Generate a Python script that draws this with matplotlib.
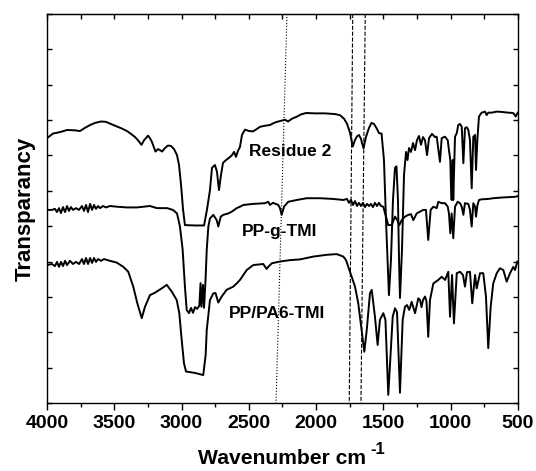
import matplotlib
matplotlib.use("Agg")
import matplotlib.pyplot as plt
from matplotlib.ticker import MultipleLocator, NullFormatter

plt.rcParams['font.family'] = ['Liberation Sans', 'DejaVu Sans']
plt.rcParams['font.weight'] = 'bold'

# spectra: wavenumber (cm-1) and transmittance (arb. units, 0-110)
residue_wn = [4000, 3955, 3903, 3851, 3792, 3755, 3718, 3680, 3643, 3599, 3562, 3532, 3487, 3443,
              3406, 3376, 3346, 3324, 3298, 3279, 3249, 3235, 3220, 3194, 3175, 3160, 3145, 3123,
              3101, 3079, 3056, 3034, 3019, 3004, 2989, 2975, 2900, 2833, 2811, 2789, 2774, 2752,
              2737, 2722, 2707, 2692, 2670, 2648, 2625, 2610, 2596, 2581, 2566, 2551, 2529, 2499,
              2469, 2440, 2417, 2380, 2343, 2313, 2291, 2261, 2231, 2209, 2179, 2142, 2113, 2075,
              2008, 1934, 1860, 1823, 1793, 1771, 1748, 1728, 1711, 1696, 1682, 1667, 1648, 1630,
              1607, 1589, 1570, 1548, 1533, 1514, 1496, 1481, 1466, 1459, 1444, 1429, 1414, 1403,
              1392, 1384, 1377, 1362, 1347, 1332, 1321, 1310, 1295, 1280, 1265, 1251, 1236, 1221,
              1206, 1191, 1176, 1161, 1139, 1117, 1104, 1080, 1067, 1042, 1022, 1013, 1003, 998,
              993, 985, 981, 968, 955, 944, 931, 918, 906, 894, 881, 869, 857, 844, 832, 819, 812,
              802, 790, 770, 745, 733, 721, 695, 658, 621, 572, 535, 517, 502]
residue_t = [74.9, 76.2, 76.6, 77.2, 77.1, 76.9, 77.8, 78.6, 79.2, 79.6, 79.5, 79.0, 78.3, 77.6,
             76.9, 76.1, 75.2, 74.3, 73.0, 74.3, 75.6, 74.9, 73.8, 71.1, 71.8, 71.5, 71.1, 72.1,
             72.8, 72.7, 71.8, 70.1, 67.3, 61.7, 54.7, 50.3, 50.2, 50.2, 54.7, 60.2, 66.5, 67.3,
             65.4, 60.2, 64.5, 67.9, 68.7, 69.3, 70.1, 71.0, 69.6, 71.3, 72.4, 75.8, 77.3, 76.9,
             76.8, 77.5, 78.1, 78.4, 78.6, 79.2, 79.5, 79.8, 80.1, 79.6, 80.4, 81.0, 81.6, 82.0,
             81.9, 81.9, 81.7, 81.4, 80.4, 79.0, 76.4, 72.5, 74.4, 75.4, 75.8, 74.7, 72.0, 75.2,
             77.8, 79.2, 78.9, 77.5, 76.3, 76.2, 68.7, 51.8, 37.6, 30.5, 40.4, 57.4, 66.5, 66.9,
             57.4, 40.4, 29.7, 43.3, 64.5, 71.0, 68.7, 72.1, 71.0, 73.5, 71.5, 74.3, 75.5, 73.0,
             75.2, 74.3, 70.1, 74.9, 76.1, 75.2, 75.3, 68.2, 74.9, 75.3, 74.3, 71.5, 68.7, 61.2,
             57.4, 68.7, 57.4, 75.3, 76.3, 78.6, 78.9, 78.1, 67.8, 77.7, 78.0, 77.2, 74.4, 60.7,
             75.3, 75.8, 65.9, 74.4, 81.0, 82.1, 82.4, 81.4, 82.1, 82.1, 82.4, 82.3, 82.1, 82.0,
             81.0, 82.1]

ppg_wn = [4000, 3963, 3941, 3926, 3911, 3896, 3881, 3866, 3851, 3837, 3822, 3807, 3784, 3762,
          3740, 3725, 3710, 3695, 3680, 3665, 3651, 3636, 3621, 3606, 3584, 3562, 3532, 3480,
          3406, 3331, 3235, 3183, 3108, 3064, 3034, 3012, 2992, 2975, 2962, 2945, 2930, 2915,
          2900, 2885, 2868, 2859, 2852, 2841, 2833, 2822, 2813, 2801, 2789, 2764, 2739, 2727,
          2709, 2690, 2653, 2627, 2590, 2566, 2541, 2467, 2380, 2356, 2343, 2321, 2281, 2269,
          2256, 2239, 2207, 2145, 2070, 1971, 1873, 1798, 1771, 1756, 1741, 1726, 1711, 1696,
          1682, 1667, 1652, 1637, 1622, 1607, 1593, 1578, 1563, 1548, 1533, 1518, 1501, 1481,
          1464, 1439, 1414, 1397, 1382, 1364, 1340, 1315, 1295, 1278, 1253, 1228, 1204, 1184,
          1167, 1149, 1129, 1104, 1092, 1067, 1042, 1022, 1013, 1003, 993, 981, 968, 948, 931,
          918, 906, 894, 869, 857, 844, 832, 819, 812, 801, 790, 770, 721, 684, 621, 572, 522, 502]
ppg_t = [54.6, 54.6, 54.9, 54.0, 55.1, 53.7, 55.4, 54.0, 55.7, 54.3, 55.4, 54.6, 55.1, 54.6,
         55.7, 54.3, 56.0, 54.0, 56.3, 54.6, 56.0, 54.9, 55.7, 55.1, 55.7, 55.3, 55.7, 55.5,
         55.3, 55.3, 55.7, 55.1, 55.1, 54.6, 53.6, 49.9, 43.3, 32.9, 26.3, 25.4, 26.9, 25.5,
         27.1, 26.6, 27.5, 33.9, 27.2, 33.4, 26.9, 34.8, 43.3, 49.9, 52.2, 53.2, 51.7, 49.9,
         52.7, 53.2, 53.6, 54.1, 55.1, 55.5, 56.0, 56.3, 56.5, 56.9, 56.0, 56.6, 56.0, 55.1,
         53.2, 55.5, 56.9, 57.4, 57.9, 57.9, 57.7, 57.4, 57.7, 56.6, 57.4, 56.0, 57.1, 55.7,
         56.6, 55.7, 56.6, 55.4, 56.3, 55.7, 56.3, 55.4, 56.6, 55.7, 56.6, 55.7, 55.5, 52.7,
         50.3, 50.3, 52.7, 51.7, 50.3, 51.7, 52.7, 53.2, 53.4, 51.7, 53.6, 54.1, 54.6, 54.6,
         46.1, 54.6, 55.5, 55.1, 56.9, 56.5, 56.5, 55.5, 53.6, 48.0, 53.6, 46.6, 55.5, 56.9, 56.5,
         55.5, 53.2, 56.5, 56.3, 54.6, 49.9, 56.5, 55.5, 52.7, 56.0, 57.4, 57.6, 57.7, 57.9,
         58.1, 58.2, 58.3, 58.5]

blend_wn = [4000, 3963, 3941, 3926, 3911, 3896, 3881, 3866, 3851, 3829, 3807, 3784, 3762, 3740,
            3725, 3710, 3695, 3680, 3665, 3651, 3636, 3621, 3599, 3577, 3532, 3482, 3433, 3396,
            3359, 3329, 3296, 3272, 3235, 3197, 3148, 3110, 3073, 3036, 3017, 2999, 2982, 2967,
            2900, 2839, 2821, 2813, 2789, 2764, 2748, 2727, 2702, 2665, 2616, 2588, 2566, 2516,
            2467, 2393, 2368, 2356, 2330, 2269, 2194, 2120, 2021, 1922, 1847, 1798, 1778, 1761,
            1736, 1711, 1687, 1662, 1642, 1624, 1600, 1587, 1563, 1543, 1526, 1501, 1485, 1464,
            1431, 1414, 1399, 1377, 1357, 1340, 1325, 1308, 1290, 1265, 1241, 1228, 1217, 1206,
            1191, 1180, 1167, 1154, 1129, 1092, 1067, 1042, 1018, 1005, 990, 976, 955, 931, 909,
            894, 879, 857, 840, 819, 807, 782, 758, 738, 721, 703, 684, 658, 634, 609, 584, 559,
            535, 522, 505]
blend_t = [39.0, 39.3, 38.7, 39.9, 38.5, 39.9, 38.7, 40.2, 39.0, 40.2, 39.3, 39.9, 39.3, 40.7,
           39.3, 41.0, 39.3, 41.0, 39.6, 41.0, 39.9, 40.7, 40.2, 40.7, 40.2, 39.7, 38.5, 37.1,
           32.9, 28.2, 24.0, 27.2, 30.5, 31.2, 32.4, 33.4, 31.5, 29.1, 25.4, 17.8, 11.2, 8.9,
           8.5, 7.9, 13.6, 20.6, 29.1, 31.0, 31.1, 28.4, 30.1, 32.0, 32.9, 33.9, 34.8, 37.6,
           39.0, 39.3, 37.9, 38.5, 39.5, 40.0, 40.4, 40.6, 41.4, 41.9, 42.1, 41.4, 40.4, 38.5,
           35.7, 32.9, 28.2, 20.6, 14.5, 20.6, 31.0, 32.0, 24.4, 16.4, 23.5, 25.4, 23.5, 2.3,
           24.4, 26.8, 25.7, 2.9, 23.5, 27.2, 27.7, 26.3, 28.6, 25.4, 29.6, 29.1, 27.1, 29.1,
           30.1, 28.8, 18.7, 29.1, 33.8, 34.8, 35.7, 34.8, 37.1, 24.4, 36.2, 22.5, 36.7, 37.1, 36.2,
           32.9, 37.0, 37.1, 28.2, 36.2, 32.4, 36.7, 36.7, 30.1, 15.5, 27.2, 33.8, 36.7, 38.1,
           37.6, 34.3, 36.7, 38.5, 37.6, 40.0]

labels = ["Residue 2", "PP-g-TMI", "PP/PA6-TMI"]
label_wn = [2194, 2269, 2291]
label_t = [71.0, 48.4, 25.4]

# marker lines (top end, bottom end) in cm-1 - they lean slightly in the original
guide_top = [2217, 1728, 1635]
guide_bottom = [2298, 1754, 1667]
guide_style = [':', '--', '--']

fig = plt.figure(figsize=(5.36, 4.71), dpi=100)
ax = fig.add_axes([0.0877, 0.1444, 0.8787, 0.8259])

for wn, t in [(residue_wn, residue_t), (ppg_wn, ppg_t), (blend_wn, blend_t)]:
    ax.plot(wn, t, color='black', lw=1.4)

for top, bot, ls in zip(guide_top, guide_bottom, guide_style):
    ax.plot([top, bot], [110, 0], color='black', lw=0.8, ls=ls)

for name, x, y in zip(labels, label_wn, label_t):
    ax.text(x, y, name, ha='center', va='center', fontsize=12.5, fontweight='bold')

ax.set_xlim(4000, 500)
ax.set_ylim(0, 110)

ax.xaxis.set_major_locator(MultipleLocator(500))
ax.xaxis.set_minor_locator(MultipleLocator(250))
ax.yaxis.set_major_locator(MultipleLocator(10))
ax.yaxis.set_major_formatter(NullFormatter())
ax.tick_params(axis='x', which='major', direction='out', length=5, width=1, labelsize=14, pad=4)
ax.tick_params(axis='x', which='minor', direction='out', length=3, width=1)
ax.tick_params(axis='y', which='both', direction='in', length=3.5, width=1, right=True)
for lab in ax.get_xticklabels():
    lab.set_fontweight('bold')

top = ax.secondary_xaxis('top')
top.xaxis.set_major_locator(MultipleLocator(250))
top.tick_params(axis='x', which='both', direction='in', length=3.5, width=1, labeltop=False)

for sp in ax.spines.values():
    sp.set_linewidth(1.0)

# x label: plain hyphen superscript as in the original, so done as two texts
ax.set_xlabel('Wavenumber cm', fontsize=15.2, fontweight='bold')
ax.xaxis.set_label_coords(0.498, -0.119)
ax.text(0.686, -0.1, '-1', transform=ax.transAxes, ha='left', va='top',
        fontsize=12, fontweight='bold')

ax.set_ylabel('Transparancy', fontsize=16, fontweight='bold')
ax.yaxis.set_label_coords(-0.024, 0.5)

fig.savefig('out.png', dpi=100)
